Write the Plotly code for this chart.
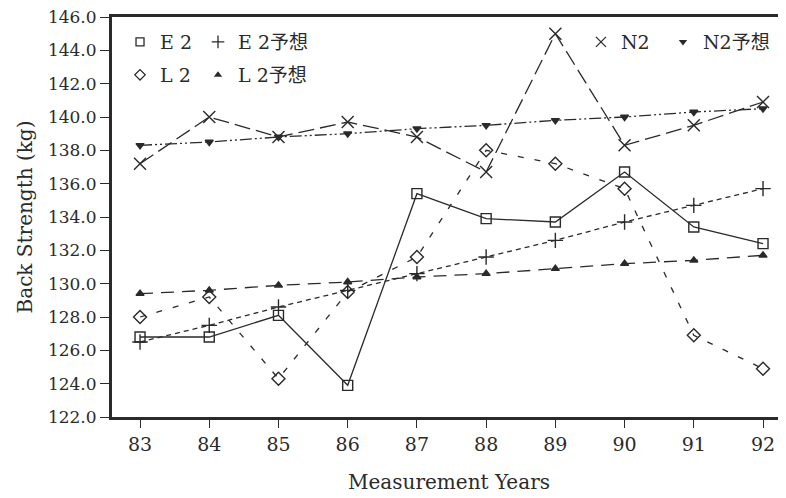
import plotly.graph_objects as go

years = [83, 84, 85, 86, 87, 88, 89, 90, 91, 92]
e2 = [126.8, 126.8, 128.1, 123.9, 135.4, 133.9, 133.7, 136.7, 133.4, 132.4]
e2_pred = [126.5, 127.5, 128.6, 129.6, 130.6, 131.6, 132.6, 133.7, 134.7, 135.7]
l2 = [128.0, 129.2, 124.3, 129.5, 131.6, 138.0, 137.2, 135.7, 126.9, 124.9]
l2_pred = [129.4, 129.6, 129.9, 130.1, 130.4, 130.6, 130.9, 131.2, 131.4, 131.7]
n2 = [137.2, 140.0, 138.8, 139.7, 138.8, 136.7, 145.0, 138.3, 139.5, 140.9]
n2_pred = [138.3, 138.5, 138.8, 139.0, 139.3, 139.5, 139.8, 140.0, 140.3, 140.5]
y_ticks = [122, 124, 126, 128, 130, 132, 134, 136, 138, 140, 142, 144, 146]

FONT = "DejaVu Serif, Noto Sans CJK JP, serif"
INK = "#2a2a2a"

# name, values, symbol, dash, marker size, legend id, legend x, legend y
series = [
    ("E 2", e2, "square-open", "solid", 10, "legend", 0.0119, 0.9375),
    ("E 2予想", e2_pred, "cross-thin-open", "5px,4px", 11, "legend2", 0.1276, 0.9375),
    ("L 2", l2, "diamond-open", "6px,11px", 10, "legend3", 0.0119, 0.855),
    ("L 2予想", l2_pred, "triangle-up", "13px,8px", 7, "legend4", 0.1276, 0.855),
    ("N2", n2, "x-thin-open", "16px,6px", 12, "legend5", 0.6958, 0.9375),
    ("N2予想", n2_pred, "triangle-down", "12px,3px,2px,3px,2px,3px", 7, "legend6", 0.8175, 0.9375),
]

fig = go.Figure()
legends = {}
for name, vals, sym, dash, size, leg, lx, ly in series:
    fig.add_trace(go.Scatter(
        x=years, y=vals, mode="lines+markers", name=name, showlegend=False,
        line=dict(color=INK, width=1.3, dash=dash),
        marker=dict(symbol=sym, size=size, color=INK,
                    line=dict(color=INK, width=1.4)),
    ))
    fig.add_trace(go.Scatter(
        x=[None], y=[None], mode="markers", name=name, legend=leg,
        marker=dict(symbol=sym, size=size - 2, color=INK,
                    line=dict(color=INK, width=1.3)),
    ))
    legends[leg] = dict(x=lx, y=ly, orientation="h", bgcolor="rgba(0,0,0,0)",
                        font=dict(family=FONT, size=19, color=INK),
                        xanchor="left", yanchor="middle", itemwidth=30, borderwidth=0)

fig.update_layout(
    width=778, height=490,
    margin=dict(l=104, r=0, t=9, b=81, autoexpand=False),
    paper_bgcolor="white", plot_bgcolor="white",
    font=dict(family=FONT, size=19, color=INK),
    xaxis=dict(
        range=[82.595, 92.332], tickmode="array", tickvals=years, ticktext=[str(y) for y in years],
        showline=True, linecolor=INK, linewidth=3, mirror=True, ticks="outside", ticklen=8,
        tickwidth=1.3, tickcolor=INK, showgrid=False, zeroline=False, ticklabeloverflow="allow",
        tickfont=dict(family=FONT, size=19, color=INK),
        title=dict(text="Measurement Years", font=dict(family=FONT, size=20, color=INK), standoff=22),
    ),
    yaxis=dict(
        range=[122, 146], tickmode="array", tickvals=y_ticks, ticktext=[f"{v:.1f}" for v in y_ticks],
        showline=True, linecolor=INK, linewidth=3, ticks="outside", ticklen=9, tickwidth=1.3,
        tickcolor=INK, showgrid=False, zeroline=False, ticklabeloverflow="allow",
        tickfont=dict(family=FONT, size=17, color=INK),
        title=dict(text="Back Strength (kg)", font=dict(family=FONT, size=20, color=INK), standoff=10),
    ),
    **legends,
)

fig.write_html("out.html")
